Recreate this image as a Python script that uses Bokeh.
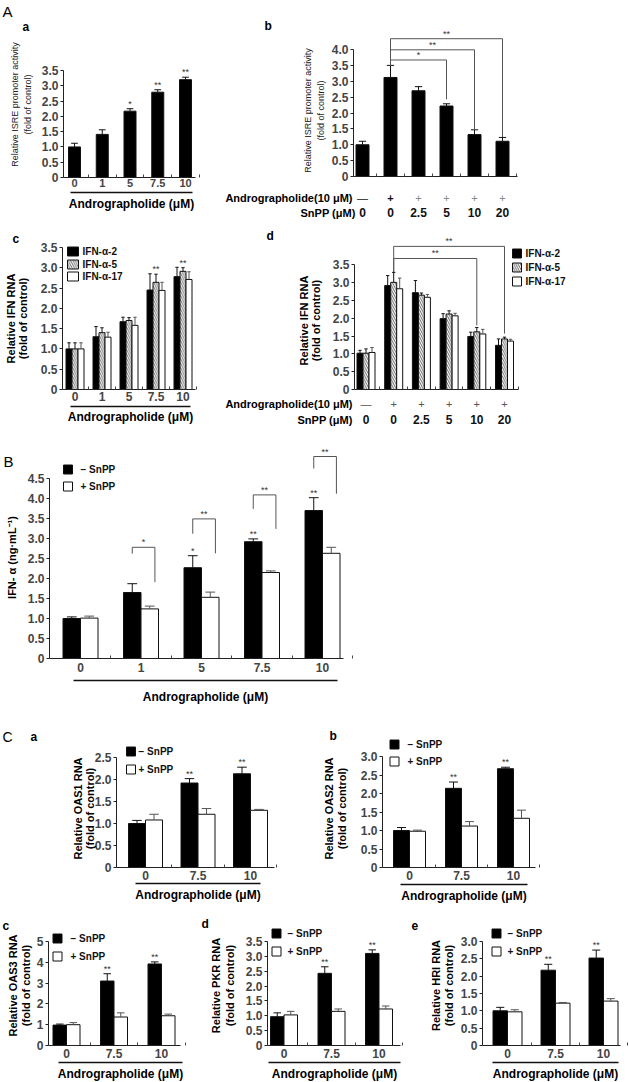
import numpy as np
from bokeh.plotting import figure
from bokeh.models import LinearAxis, FixedTicker, Label, LabelSet, ColumnDataSource, Range1d
from bokeh.layouts import row, column
from bokeh.embed import file_html
from bokeh.resources import INLINE
from bokeh.core.properties import value

FONT = "Liberation Sans"

# ---------------- data ----------------
# A-a
aa_conc = ["0", "1", "5", "7.5", "10"]
aa_val = [1.0, 1.41, 2.17, 2.79, 3.2]
aa_err = [0.12, 0.15, 0.08, 0.08, 0.08]
aa_sig = ["", "", "*", "**", "**"]
aa_yticks = [0, 0.5, 1.0, 1.5, 2.0, 2.5, 3.0, 3.5]

# A-b
ab_andro = ["—", "+", "+", "+", "+", "+"]
ab_snpp = ["0", "0", "2.5", "5", "10", "20"]
ab_val = [1.0, 3.12, 2.7, 2.22, 1.32, 1.11]
ab_err = [0.11, 0.38, 0.13, 0.07, 0.15, 0.12]
ab_yticks = [0, 0.5, 1.0, 1.5, 2.0, 2.5, 3.0, 3.5, 4.0]
ab_br_from = 1
ab_br_to = [3, 4, 5]
ab_br_level = [3.67, 3.99, 4.34]
ab_br_end = [2.43, 1.47, 1.24]
ab_br_sig = ["*", "**", "**"]

# A-c
ac_conc = ["0", "1", "5", "7.5", "10"]
ac_ifn2 = [1.0, 1.3, 1.67, 2.45, 2.78]
ac_ifn2_err = [0.15, 0.25, 0.11, 0.4, 0.23]
ac_ifn5 = [1.0, 1.4, 1.7, 2.64, 2.91]
ac_ifn5_err = [0.15, 0.12, 0.07, 0.2, 0.09]
ac_ifn17 = [1.0, 1.29, 1.58, 2.44, 2.71]
ac_ifn17_err = [0.15, 0.12, 0.2, 0.2, 0.19]
ac_sig = ["", "", "", "**", "**"]
ac_yticks = [0, 0.5, 1.0, 1.5, 2.0, 2.5, 3.0, 3.5]
ifn_names = ["IFN-α-2", "IFN-α-5", "IFN-α-17"]

# A-d
ad_andro = ["—", "+", "+", "+", "+", "+"]
ad_snpp = ["0", "0", "2.5", "5", "10", "20"]
ad_ifn2 = [1.02, 2.92, 2.72, 1.99, 1.49, 1.24]
ad_ifn2_err = [0.08, 0.28, 0.34, 0.14, 0.12, 0.18]
ad_ifn5 = [1.02, 3.01, 2.65, 2.12, 1.62, 1.42]
ad_ifn5_err = [0.12, 0.28, 0.06, 0.09, 0.12, 0.05]
ad_ifn17 = [1.04, 2.83, 2.59, 2.07, 1.56, 1.36]
ad_ifn17_err = [0.14, 0.3, 0.08, 0.07, 0.13, 0.05]
ad_yticks = [0, 0.5, 1.0, 1.5, 2.0, 2.5, 3.0, 3.5]
ad_br_from = 1
ad_br_to = [4, 5]
ad_br_level = [3.68, 4.02]
ad_br_end = [1.8, 1.57]
ad_br_sig = ["**", "**"]

# B
b_conc = ["0", "1", "5", "7.5", "10"]
b_minus = [1.0, 1.65, 2.27, 2.92, 3.7]
b_minus_err = [0.04, 0.22, 0.3, 0.07, 0.32]
b_plus = [1.01, 1.24, 1.53, 2.15, 2.63]
b_plus_err = [0.05, 0.07, 0.13, 0.04, 0.15]
b_sig = ["", "", "*", "**", "**"]
b_yticks = [0, 0.5, 1.0, 1.5, 2.0, 2.5, 3.0, 3.5, 4.0, 4.5]
b_br_grp = [1, 2, 3, 4]
b_br_level = [2.78, 3.49, 4.09, 5.05]
b_br_left = [2.62, 3.12, 3.74, 4.75]
b_br_right = [1.91, 2.63, 3.24, 4.12]
b_br_sig = ["*", "**", "**", "**"]
snpp_names = ["− SnPP", "+ SnPP"]

# C
c_conc = ["0", "7.5", "10"]
c_sig = ["", "**", "**"]
ca_minus = [1.0, 1.92, 2.13]
ca_minus_err = [0.07, 0.1, 0.15]
ca_plus = [1.08, 1.21, 1.3]
ca_plus_err = [0.13, 0.13, 0.02]
ca_yticks = [0, 0.5, 1.0, 1.5, 2.0, 2.5]
cb_minus = [1.0, 2.14, 2.67]
cb_minus_err = [0.08, 0.17, 0.04]
cb_plus = [0.98, 1.12, 1.33]
cb_plus_err = [0.03, 0.12, 0.22]
cb_yticks = [0, 0.5, 1.0, 1.5, 2.0, 2.5, 3.0]
cc_minus = [0.98, 3.1, 3.92]
cc_minus_err = [0.05, 0.35, 0.1]
cc_plus = [1.0, 1.37, 1.43]
cc_plus_err = [0.1, 0.2, 0.08]
cc_yticks = [0, 1, 2, 3, 4, 5]
cd_minus = [0.97, 2.43, 3.1]
cd_minus_err = [0.13, 0.22, 0.12]
cd_plus = [1.03, 1.15, 1.23]
cd_plus_err = [0.12, 0.08, 0.1]
cd_yticks = [0, 0.5, 1.0, 1.5, 2.0, 2.5, 3.0, 3.5]
ce_minus = [1.0, 2.17, 2.52]
ce_minus_err = [0.1, 0.17, 0.23]
ce_plus = [0.97, 1.22, 1.28]
ce_plus_err = [0.06, 0.02, 0.07]
ce_yticks = [0, 0.5, 1.0, 1.5, 2.0, 2.5, 3.0]

XTITLE = "Andrographolide (μM)"


# ---------------- helpers ----------------
def make_panel(ox, oy, W, H, c0, s, z, k):
    """Figure whose frame covers the whole canvas; group i sits at pixel c0 + i*s,
    value 0 at pixel row z, k pixels per unit."""
    p = figure(width=W, height=H,
               x_range=Range1d((ox - c0) / s, (ox + W - c0) / s),
               y_range=Range1d((z - oy - H) / k, (z - oy) / k),
               x_axis_type=None, y_axis_type=None, output_backend="svg",
               toolbar_location=None, tools="", title=None)
    p.min_border = 0
    p.min_border_left = 0
    p.min_border_right = 0
    p.min_border_top = 0
    p.min_border_bottom = 0
    p.outline_line_color = None
    p.background_fill_color = "white"
    p.border_fill_color = "white"
    X = lambda px: (px - c0) / s
    Y = lambda py: (z - py) / k
    return p, X, Y


def fmt_tick(t, integer=False):
    if integer:
        return str(int(t))
    return "0" if t == 0 else "%.1f" % t


def yaxis(p, xloc, ticks, integer=False, size=12):
    ax = LinearAxis(ticker=FixedTicker(ticks=ticks, minor_ticks=[]), bounds=(0, ticks[-1]),
                    fixed_location=xloc,
                    major_label_overrides={t: fmt_tick(t, integer) for t in ticks})
    ax.major_tick_out = 3
    ax.major_tick_in = 0
    ax.minor_tick_out = 0
    ax.minor_tick_in = 0
    ax.major_label_standoff = 2
    ax.major_label_text_font = FONT
    ax.major_label_text_font_size = f"{size}px"
    ax.major_label_text_font_style = "bold"
    ax.axis_line_color = "#222"
    ax.major_tick_line_color = "#222"
    p.add_layout(ax, "left")


def xaxis(p, labels, x0, x1, standoff=2, size=12):
    n = len(labels)
    ax = LinearAxis(ticker=FixedTicker(ticks=list(range(n)), minor_ticks=[i + 0.5 for i in range(n)]),
                    major_label_overrides={i: l for i, l in enumerate(labels)},
                    fixed_location=0, bounds=(x0, x1))
    ax.major_tick_out = 0
    ax.major_tick_in = 0
    ax.major_tick_line_color = None
    ax.minor_tick_in = 3
    ax.minor_tick_out = 0
    ax.minor_tick_line_color = "#444"
    ax.major_label_standoff = standoff
    ax.major_label_text_font = FONT
    ax.major_label_text_font_size = f"{size}px"
    ax.major_label_text_font_style = "bold"
    ax.axis_line_color = "#222"
    p.add_layout(ax, "below")


def underline(p, X, Y, x0px, x1px, ypx, title_ypx, size=12):
    ax = LinearAxis(ticker=FixedTicker(ticks=[], minor_ticks=[]), bounds=(X(x0px), X(x1px)),
                    fixed_location=Y(ypx))
    ax.axis_line_width = 1.6
    ax.axis_line_color = "#111"
    ax.major_tick_out = 0
    ax.major_tick_in = 0
    ax.minor_tick_out = 0
    ax.minor_tick_in = 0
    ax.major_label_text_font_size = "0px"
    p.add_layout(ax, "below")
    label(p, X((x0px + x1px) / 2), Y(title_ypx), XTITLE, size, bold=True)


def bars(p, xs, vals, errs, width, fill, hatch=None, err_color="#111"):
    xs = np.asarray(xs, dtype=float)
    top = np.asarray(vals, dtype=float)
    hi = top + np.asarray(errs, dtype=float)
    kw = {}
    if hatch:
        kw = dict(hatch_pattern=hatch, hatch_color="#222", hatch_scale=4.5, hatch_weight=0.7)
    p.vbar(x=xs, top=top, bottom=0, width=width, fill_color=fill, line_color="#111",
           line_width=1, **kw)
    p.segment(x0=xs, y0=top, x1=xs, y1=hi, line_color=err_color, line_width=1)
    cap = width * 0.28
    p.segment(x0=xs - cap, y0=hi, x1=xs + cap, y1=hi, line_color=err_color, line_width=1)
    return hi


def stars(p, xs, ys, sig, size=9):
    p.text(x=list(xs), y=list(ys), text=list(sig), text_font=value(FONT),
           text_font_size=f"{size}px", text_align="center", text_baseline="bottom",
           text_color="#333")


def label(p, x, y, text, size, bold=False, angle=0, align="center", baseline="middle",
          color="black"):
    p.add_layout(Label(x=x, y=y, text=text, angle=angle, angle_units="deg", text_font=FONT,
                       text_font_size=f"{size}px",
                       text_font_style="bold" if bold else "normal",
                       text_align=align, text_baseline=baseline, text_color=color))


def ylabel(p, X, Y, xs_px, cy_px, lines, size=11, bold=True, color="black"):
    for xp, t in zip(xs_px, lines):
        label(p, X(xp), Y(cy_px), t, size, bold=bold, angle=90, color=color)


def legend(p, X, Y, bx, rows_py, tx, names, fills, hatches, bw, bh, size=10):
    for py, nm, fc, h in zip(rows_py, names, fills, hatches):
        kw = {}
        if h:
            kw = dict(hatch_pattern=h, hatch_color="#222", hatch_scale=4.5, hatch_weight=0.7)
        p.rect(x=[X(bx)], y=[Y(py)], width=bw, height=bh, width_units="screen",
               height_units="screen", fill_color=fc, line_color="#111", line_width=1, **kw)
        p.text(x=[X(tx)], y=[Y(py)], text=[nm], text_font=value(FONT),
               text_font_size=f"{size}px", text_font_style="bold", text_align="left",
               text_baseline="middle", text_color="#111")


def brackets(p, x_from, from_end, x_to, levels, ends, sig, color="#555", size=9):
    xs, ys, tx, ty = [], [], [], []
    for xt, lv, en in zip(x_to, levels, ends):
        xs.append([x_from, x_from, xt, xt])
        ys.append([from_end, lv, lv, en])
        tx.append((x_from + xt) / 2)
        ty.append(lv)
    p.multi_line(xs=xs, ys=ys, line_color=color, line_width=1)
    p.text(x=tx, y=ty, text=list(sig), text_font=value(FONT), text_font_size=f"{size}px",
           text_align="center", text_baseline="bottom", text_color="#333")


def rows_labels(p, X, Y, n, row1, row2, y1px, y2px, colors, styles, t1_right, t2_right):
    src = ColumnDataSource(dict(x=list(range(n)), y=[Y(y1px)] * n, text=row1,
                                color=colors, style=styles))
    p.add_layout(LabelSet(x="x", y="y", text="text", source=src, text_align="center",
                          text_baseline="middle", text_font=value(FONT),
                          text_font_size="11px", text_font_style="style",
                          text_color="color"))
    src2 = ColumnDataSource(dict(x=list(range(n)), y=[Y(y2px)] * n, text=row2))
    p.add_layout(LabelSet(x="x", y="y", text="text", source=src2, text_align="center",
                          text_baseline="middle", text_font=value(FONT),
                          text_font_size="12px", text_font_style="bold",
                          text_color="#111"))
    label(p, X(t1_right), Y(y1px), "Andrographolide(10 μM)", 11, bold=True, align="right")
    label(p, X(t2_right), Y(y2px), "SnPP (μM)", 11, bold=True, align="right")


# ---------------- A-a ----------------
pa, X, Y = make_panel(0, 0, 215, 222, 74, 27.75, 177, 30.57)
xs = np.arange(len(aa_val))
hi = bars(pa, xs, aa_val, aa_err, 12 / 27.75, "black")
stars(pa, xs, hi, aa_sig)
yaxis(pa, X(63), aa_yticks)
xaxis(pa, aa_conc, X(63), X(195), standoff=1, size=11)
underline(pa, X, Y, 70, 192, 192, 203)
ylabel(pa, X, Y, [14, 27], 104, ["Relative ISRE promoter activity", "(fold of control)"],
       size=9, bold=False, color="#222")
label(pa, X(2), Y(11), "A", 15, align="left")
label(pa, X(22), Y(26), "a", 12, bold=True, align="left")

# ---------------- A-b ----------------
pb, X, Y = make_panel(215, 0, 414, 222, 362, 28, 176, 31.75)
xs = np.arange(len(ab_val))
hi = bars(pb, xs, ab_val, ab_err, 13 / 28, "black")
yaxis(pb, X(353), ab_yticks)
xaxis(pb, [""] * len(ab_val), X(353), X(517), standoff=2)
brackets(pb, ab_br_from, hi[ab_br_from], ab_br_to, ab_br_level, ab_br_end, ab_br_sig)
rows_labels(pb, X, Y, len(ab_val), ab_andro, ab_snpp, 197, 212,
            ["#111", "#111", "#888", "#888", "#888", "#888"],
            ["normal", "bold", "normal", "normal", "normal", "normal"], 352, 355)
ylabel(pb, X, Y, [307, 320], 110, ["Relative ISRE promoter activity", "(fold of control)"],
       size=9, bold=False, color="#222")
label(pb, X(264), Y(25), "b", 12, bold=True, align="left")

# ---------------- A-c ----------------
pc, X, Y = make_panel(0, 222, 205, 206, 74.5, 27, 389, 40.6)
xs = np.arange(len(ac_ifn2))
bw = 6 / 27
bars(pc, xs - bw, ac_ifn2, ac_ifn2_err, bw, "black")
hi5 = bars(pc, xs, ac_ifn5, ac_ifn5_err, bw, "white", hatch="\\")
bars(pc, xs + bw, ac_ifn17, ac_ifn17_err, bw, "white", err_color="#555")
stars(pc, xs, hi5, ac_sig)
yaxis(pc, X(62), ac_yticks)
xaxis(pc, ac_conc, X(62), X(195), standoff=2)
underline(pc, X, Y, 70, 190, 406, 416)
legend(pc, X, Y, 72.5, [251, 264, 276], 82, ifn_names, ["black", "white", "white"],
       [None, "\\", None], 11, 9, size=10)
ylabel(pc, X, Y, [10, 22], 318, ["Relative IFN RNA", "(fold of control)"], size=11)
label(pc, X(12), Y(238), "c", 12, bold=True, align="left")

# ---------------- A-d ----------------
pd_, X, Y = make_panel(205, 222, 424, 206, 365.5, 27.7, 389, 35.6)
xs = np.arange(len(ad_ifn2))
bw = 6 / 27.7
bars(pd_, xs - bw, ad_ifn2, ad_ifn2_err, bw, "black")
bars(pd_, xs, ad_ifn5, ad_ifn5_err, bw, "white", hatch="\\")
bars(pd_, xs + bw, ad_ifn17, ad_ifn17_err, bw, "white", err_color="#555")
yaxis(pd_, X(354), ad_yticks)
xaxis(pd_, [""] * len(ad_ifn2), X(354), X(518), standoff=2)
brackets(pd_, ad_br_from, 3.3, ad_br_to, ad_br_level, ad_br_end, ad_br_sig)
rows_labels(pd_, X, Y, len(ad_ifn2), ad_andro, ad_snpp, 403, 419,
            ["#555"] * 6, ["normal"] * 6, 352, 352)
legend(pd_, X, Y, 516.5, [253, 267, 281], 525, ifn_names, ["black", "white", "white"],
       [None, "\\", None], 9, 9)
ylabel(pd_, X, Y, [303, 315], 320, ["Relative IFN RNA", "(fold of control)"], size=11)
label(pd_, X(266), Y(235), "d", 12, bold=True, align="left")

# ---------------- B ----------------
pB, X, Y = make_panel(0, 428, 629, 284, 80, 60.5, 658, 40)
xs = np.arange(len(b_minus))
bw = 17.5 / 60.5
him = bars(pB, xs - bw / 2, b_minus, b_minus_err, bw, "black")
bars(pB, xs + bw / 2, b_plus, b_plus_err, bw, "white", err_color="#555")
stars(pB, xs - bw / 2, him, b_sig)
yaxis(pB, X(49), b_yticks)
xaxis(pB, b_conc, X(49), X(343), standoff=4)
underline(pB, X, Y, 73, 337, 680, 696)
bxs, bys, btx = [], [], []
for g, lv, le, re_ in zip(b_br_grp, b_br_level, b_br_left, b_br_right):
    bxs.append([g - bw / 2, g - bw / 2, g + 0.23, g + 0.23])
    bys.append([le, lv, lv, re_])
    btx.append(g + 0.04)
pB.multi_line(xs=bxs, ys=bys, line_color="#555", line_width=1)
pB.text(x=btx, y=b_br_level, text=b_br_sig, text_font=value(FONT), text_font_size="9px",
        text_align="center", text_baseline="bottom", text_color="#333")
legend(pB, X, Y, 67.5, [469, 486], 80, snpp_names, ["black", "white"], [None, None], 9, 9,
       size=10)
label(pB, X(11), Y(557), "IFN- α (ng·mL⁻¹)", 11, bold=True, angle=90)
label(pB, X(3), Y(461), "B", 15, align="left")


# ---------------- C ----------------
def c_panel(geom, axes_px, minus, minus_err, plus, plus_err, yticks, bw_px, leg, ylab,
            letters, ul, standoff, integer=False):
    p, X, Y = make_panel(*geom)
    s = geom[5]
    xs = np.arange(len(minus))
    bw = bw_px / s
    him = bars(p, xs - bw / 2, minus, minus_err, bw, "black")
    bars(p, xs + bw / 2, plus, plus_err, bw, "white", err_color="#555")
    stars(p, xs - bw / 2, him, c_sig)
    yaxis(p, X(axes_px[0]), yticks, integer=integer)
    xaxis(p, c_conc, X(axes_px[0]), X(axes_px[1]), standoff=standoff)
    underline(p, X, Y, ul[0], ul[1], ul[2], ul[3])
    bx, rws, tx = leg
    legend(p, X, Y, bx, rws, tx, snpp_names, ["black", "white"], [None, None], 9, 9,
           size=10)
    ylabel(p, X, Y, ylab[0], ylab[1], ylab[2], size=11)
    for (lx, ly, t, sz, bold) in letters:
        label(p, X(lx), Y(ly), t, sz, bold=bold, align="left")
    return p


pCa = c_panel((0, 712, 300, 200, 145, 52.5, 867, 44), (116, 274),
              ca_minus, ca_minus_err, ca_plus, ca_plus_err, ca_yticks, 17,
              (130.5, [751, 769], 138), ([77, 89], 808, ["Relative OAS1 RNA", "(fold of control)"]),
              [(2, 736, "C", 14, False), (30, 736, "a", 12, True)], (135, 260, 883, 894), 3)
pCb = c_panel((300, 712, 329, 200, 409, 52, 867, 37), (382, 535),
              cb_minus, cb_minus_err, cb_plus, cb_plus_err, cb_yticks, 16,
              (394, [744, 761], 407), ([328, 341], 808, ["Relative OAS2 RNA", "(fold of control)"]),
              [(329, 735, "b", 12, True)], (400, 527, 884, 895), 3)
pCc = c_panel((0, 912, 200, 170, 66, 47.5, 1045, 20.8), (48, 180),
              cc_minus, cc_minus_err, cc_plus, cc_plus_err, cc_yticks, 13.5,
              (57, [938, 956], 70), ([12, 25], 985, ["Relative OAS3 RNA", "(fold of control)"]),
              [(2, 925, "c", 12, True)], (58, 182, 1062, 1073), 3, integer=True)
pCd = c_panel((200, 912, 210, 170, 283.5, 47.5, 1045, 29.7), (267, 400),
              cd_minus, cd_minus_err, cd_plus, cd_plus_err, cd_yticks, 13.5,
              (276, [933, 951], 287), ([215, 229], 985, ["Relative PKR RNA", "(fold of control)"]),
              [(201, 923, "d", 12, True)], (268, 400, 1062, 1073), 3)
pCe = c_panel((410, 912, 219, 170, 507, 48, 1045, 34.7), (482, 620),
              ce_minus, ce_minus_err, ce_plus, ce_plus_err, ce_yticks, 14.5,
              (496, [933, 951], 507), ([435, 448], 985, ["Relative HRI RNA", "(fold of control)"]),
              [(411, 925, "e", 12, True)], (492, 618, 1062, 1073), 3)

layout = column(
    row(pa, pb),
    row(pc, pd_),
    pB,
    row(pCa, pCb),
    row(pCc, pCd, pCe),
)

open("out.html", "w").write(file_html(layout, INLINE))
